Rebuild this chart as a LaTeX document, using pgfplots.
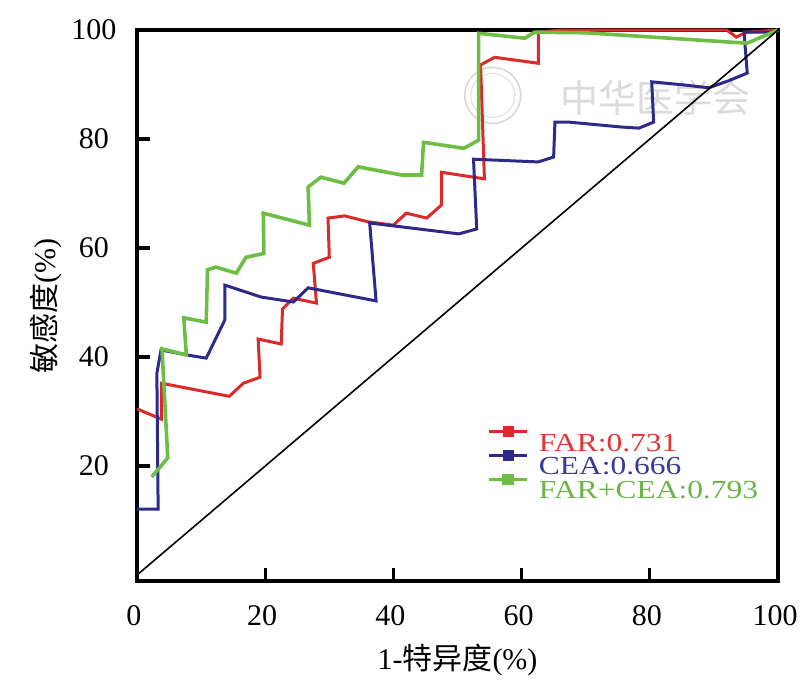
\documentclass[border=0pt]{standalone}
\usepackage{pgfplots}
\pgfplotsset{compat=1.18}
\usepackage{fontspec}
\setmainfont{Liberation Serif}
\newfontfamily\legfont[FakeStretch=1.21]{Liberation Serif}
\newfontfamily\cjk{Noto Sans CJK SC}
\definecolor{cred}{RGB}{220,42,42}
\definecolor{cblue}{RGB}{46,42,138}
\definecolor{cgreen}{RGB}{110,190,70}
\definecolor{tred}{RGB}{228,52,52}
\definecolor{tblue}{RGB}{58,58,148}
\definecolor{tgreen}{RGB}{106,180,72}
\begin{document}
\fontsize{15}{18}\selectfont
\begin{tikzpicture}
\begin{axis}[
  scale only axis,
  width=320.5pt, height=275.5pt,
  xmin=0, xmax=100, ymin=-1.1, ymax=100,
  xtick={0,20,40,60,80,100},
  ytick={20,40,60,80,100},
  xtick pos=bottom, ytick pos=left,
  tick align=inside,
  major tick length=6.5pt,
  every tick/.style={black, line width=1.6pt},
  axis line style={line width=2pt, black},
  /pgf/number format/assume math mode=true,
  tick label style={font=\fontsize{15}{18}\selectfont},
  xticklabel style={yshift=-7pt, xshift=-1.5pt},
  yticklabel style={anchor=center, xshift=-21.5pt},
  xlabel={1-{\cjk 特异度}(\%)},
  ylabel={{\cjk 敏感度}(\%)},
  xlabel style={at={(axis description cs:0.5,-0.143)}, anchor=center, font=\fontsize{15}{18}\selectfont},
  ylabel style={at={(axis description cs:-0.142,0.5)}, anchor=center, font=\fontsize{15}{18}\selectfont},
  clip=false,
  legend cell align=left,
  legend style={at={(axis description cs:0.546,0.2814)}, anchor=north west, draw=none, fill=none,
    font=\legfont\fontsize{13}{13}\selectfont, row sep=-0.5pt, inner sep=0pt,
    nodes={inner sep=0pt, text height=10pt, text depth=0pt},
    /tikz/every odd column/.append style={column sep=5pt}},
  legend image code/.code={%
    \draw[#1] (0pt,4.6pt)--(19pt,4.6pt);
    \fill[#1] (7.5pt,2.6pt) rectangle (11.5pt,6.6pt);},
]
\node[text=gray!28, font=\cjk\fontsize{19}{19}\selectfont, anchor=west] at (axis cs:64.5,87.5) {中华医学会};
\draw[gray!30, line width=0.8pt] (axis cs:55.5,88) circle (14pt);
\draw[gray!22, line width=0.6pt] (axis cs:55.5,88) circle (11pt);

\addplot[cred, line width=1.5pt] coordinates {
(0,30.5) (3.8,28.6) (3.8,35.2) (14.4,32.8) (16.6,35.2) (19.2,36.3) (18.9,43.3)
(22.5,42.4) (22.7,48.8) (24.4,50.8) (28,49.9) (27.5,57.2) (30,58.3) (29.8,65.5)
(32.4,65.9) (36.1,64.8) (40,64.2) (42,66.4) (45.2,65.5) (47.5,67.9) (47.5,73.9)
(54.2,72.7) (53.6,93.6) (55.8,95) (62.6,93.9) (62.6,99.6) (66,100) (92,100)
(93.5,98.7) (95,99.6) (100,100)};
\addlegendentry{\textcolor{tred}{FAR:0.731}}

\addplot[cblue, line width=1.5pt] coordinates {
(0,12.1) (3.3,12.1) (3.1,37) (3.75,41.3) (7.7,40.4) (10.8,39.8) (13.7,46.8) (13.7,53.2)
(19.4,51) (24.4,50.1) (26.7,52.7) (37.3,50.3) (36.3,64.6) (50.2,62.6) (53,63.5)
(52.5,76.3) (62.6,75.8) (65,76.7) (65.2,83.1) (67.4,83.1) (75.6,82.2) (78.3,82)
(80.6,83.1) (80.3,90.5) (85.5,89.9) (89.2,89.4) (92.3,90.7) (95.2,92.1) (94.7,99.6)
(99,99.6) (100,100)};
\addlegendentry{\textcolor{tblue}{CEA:0.666}}

\addplot[cgreen, line width=1.8pt] coordinates {
(2.3,18) (4.8,21.5) (3.9,41.5) (7.7,40.4) (7.3,47.2) (10.8,46.4) (11,56) (12.3,56.5)
(15.5,55.4) (17,58.3) (19.8,59) (19.7,66.4) (26.9,64.2) (26.7,71.2) (28.7,73)
(32.3,71.9) (34.5,74.9) (41.3,73.4) (44.4,73.4) (44.7,79.4) (51,78.3) (53.3,79.8)
(53.3,99.4) (60.5,98.5) (62,99.6) (70,99.5) (92.3,97.8) (95.2,97.6) (100,100)};
\addlegendentry{\textcolor{tgreen}{FAR+CEA:0.793}}

\addplot[black, line width=0.8pt, forget plot] coordinates {(0,0) (100,100)};

\coordinate (bl) at (rel axis cs:-0.2137,-0.1924);
\coordinate (tr) at (rel axis cs:1.0468,1.0545);
\end{axis}
\path (bl) rectangle (tr);
\end{tikzpicture}
\end{document}
